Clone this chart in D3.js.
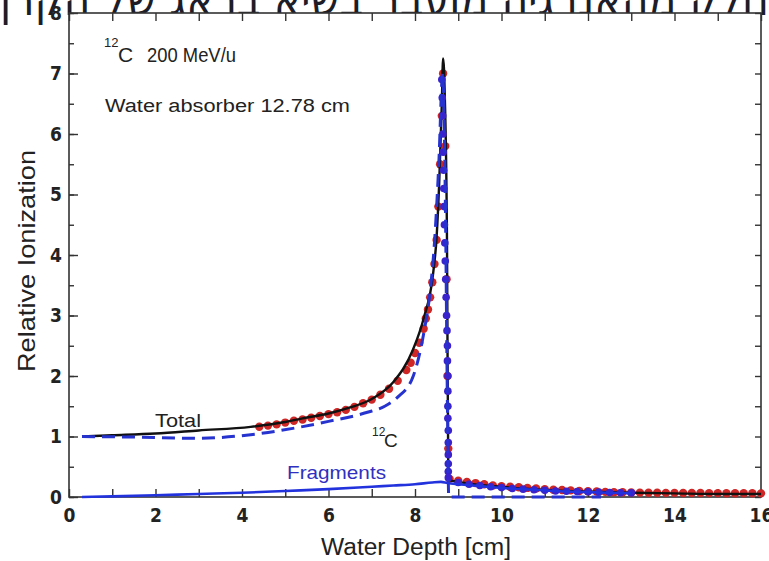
<!DOCTYPE html>
<html>
<head>
<meta charset="utf-8">
<script src="https://cdn.jsdelivr.net/npm/d3@7"></script>
<style>
body { margin: 0; background: #fff; }
svg { display: block; }
.tick text { font-family: "DejaVu Sans Condensed", "Liberation Sans", sans-serif; font-weight: bold; font-size: 19px; fill: #222; }
.tick line { stroke: #333; stroke-width: 1.4; }
.domain { stroke: none; }
</style>
</head>
<body>
<div id="chart"></div>
<script>
// DATA
var xTicks = [0, 2, 4, 6, 8, 10, 12, 14, 16];
var yTicks = [0, 1, 2, 3, 4, 5, 6, 7, 8];

// Total (black solid)
var totalDepth = [0.3, 1, 2, 3, 4.2, 5, 5.4, 6, 6.5, 7, 7.5, 7.95, 8.2, 8.42, 8.5, 8.56, 8.62, 8.65, 8.69, 8.74, 8.77, 8.8, 9, 9.5, 10, 10.5, 11, 11.5, 12, 12.5, 13, 14, 15, 16];
var totalValue = [1.0, 1.02, 1.05, 1.1, 1.16, 1.24, 1.3, 1.38, 1.48, 1.62, 1.9, 2.43, 2.95, 3.7, 4.3, 5.2, 6.5, 7.25, 6.6, 4.2, 0.35, 0.28, 0.25, 0.2, 0.17, 0.14, 0.12, 0.1, 0.09, 0.08, 0.07, 0.06, 0.05, 0.05];

// 12C (blue dashed)
var carbonDepth = [0.3, 1.5, 3, 4.2, 5.3, 6, 6.9, 7.3, 7.6, 7.96, 8.2, 8.35, 8.45, 8.55, 8.64, 8.7, 8.75, 8.78, 9.2, 10, 11, 12.3];
var carbonValue = [1.0, 0.99, 0.97, 1.03, 1.15, 1.25, 1.4, 1.5, 1.65, 2.0, 2.7, 3.4, 4.2, 5.5, 7.0, 5.0, 1.5, 0.0, 0.0, 0.0, 0.0, 0.0];

// Fragments (blue solid)
var fragDepth = [0.3, 1, 2, 3, 4, 5, 6, 7, 7.5, 8, 8.4, 8.6, 8.75, 9, 9.5, 10, 10.5, 11, 11.5, 12, 12.5, 13];
var fragValue = [0.0, 0.01, 0.03, 0.05, 0.07, 0.1, 0.13, 0.17, 0.19, 0.21, 0.24, 0.25, 0.23, 0.21, 0.18, 0.15, 0.13, 0.11, 0.09, 0.08, 0.07, 0.06];

// measured points (red)
var redDepth = [4.4, 4.6, 4.8, 5.0, 5.2, 5.4, 5.6, 5.8, 6.0, 6.2, 6.4, 6.6, 6.8, 7.0, 7.2, 7.4, 7.6, 7.8, 7.9, 8.0, 8.1, 8.2, 8.25, 8.3, 8.35, 8.4, 8.45, 8.5, 8.54, 8.58, 8.62, 8.65, 8.7, 8.73, 8.75, 8.77, 8.8, 9.0, 9.2, 9.4, 9.6, 9.8, 10.0, 10.2, 10.4, 10.6, 10.8, 11.0, 11.2, 11.4, 11.6, 11.8, 12.0, 12.2, 12.4, 12.6, 12.8, 13.0, 13.2, 13.4, 13.6, 13.8, 14.0, 14.2, 14.4, 14.6, 14.8, 15.0, 15.2, 15.4, 15.6, 15.8, 16.0];
var redValue = [1.16, 1.18, 1.2, 1.23, 1.26, 1.28, 1.31, 1.34, 1.37, 1.4, 1.44, 1.49, 1.55, 1.61, 1.69, 1.79, 1.92, 2.1, 2.22, 2.38, 2.55, 2.78, 2.95, 3.1, 3.3, 3.55, 3.85, 4.25, 4.8, 5.5, 6.3, 7.0, 5.8, 3.6, 2.0, 0.8, 0.3, 0.27, 0.25, 0.23, 0.21, 0.19, 0.18, 0.17, 0.16, 0.15, 0.14, 0.13, 0.12, 0.115, 0.11, 0.1, 0.095, 0.09, 0.085, 0.08, 0.078, 0.075, 0.072, 0.07, 0.07, 0.068, 0.068, 0.066, 0.066, 0.065, 0.064, 0.064, 0.063, 0.062, 0.062, 0.061, 0.06];

// simulated points (blue)
var blueDepth = [8.62, 8.63, 8.64, 8.645, 8.65, 8.66, 8.665, 8.67, 8.68, 8.69, 8.7, 8.71, 8.72, 8.73, 8.74, 8.75, 8.75, 8.76, 8.76, 8.76, 8.76, 8.77, 8.77, 8.77, 8.77, 8.77, 8.77, 9.0, 9.25, 9.5, 9.75, 10.0, 10.25, 10.5, 10.75, 11.0, 11.25, 11.5, 11.75, 12.0, 12.25, 12.5, 12.75, 13.0];
var blueValue = [6.9, 6.6, 6.3, 6.0, 5.7, 5.4, 5.1, 4.8, 4.5, 4.2, 3.9, 3.6, 3.3, 3.0, 2.75, 2.5, 2.25, 2.0, 1.75, 1.5, 1.3, 1.1, 0.9, 0.7, 0.55, 0.42, 0.32, 0.24, 0.21, 0.19, 0.17, 0.155, 0.14, 0.13, 0.12, 0.11, 0.1, 0.095, 0.09, 0.085, 0.08, 0.075, 0.07, 0.068];

// LAYOUT
var WIDTH = 769, HEIGHT = 561;
var LEFT = 69, RIGHT = 761, TOP = 13, BOTTOM = 497;

var svg = d3.select("#chart").append("svg")
	.attr("width", WIDTH)
	.attr("height", HEIGHT);

var xScale = d3.scaleLinear().domain([0, 16]).range([LEFT, RIGHT]);
var yScale = d3.scaleLinear().domain([0, 8]).range([BOTTOM, TOP]);

// cut-off caption line at the very top
svg.append("text")
	.attr("x", 0).attr("y", 15)
	.attr("textLength", 769)
	.attr("lengthAdjust", "spacingAndGlyphs")
	.style("font-family", "DejaVu Sans")
	.style("font-size", "46px")
	.style("fill", "#1d1d28")
	.text("חלק מהאנרגיה מועבר בשיא בראג של הקרן");

// frame
svg.append("rect")
	.attr("x", LEFT).attr("y", TOP)
	.attr("width", RIGHT - LEFT).attr("height", BOTTOM - TOP)
	.attr("fill", "#fff")
	.attr("stroke", "#333")
	.attr("stroke-width", 1.6);

var ones = d3.range(0, 17, 1);
var halves = d3.range(0, 8.01, 0.5);

// axes (ticks pointing inward)
svg.append("g")
	.attr("transform", "translate(0," + BOTTOM + ")")
	.call(d3.axisBottom(xScale).tickValues(ones).tickSize(-8).tickPadding(12)
		.tickFormat(function(d) { return xTicks.indexOf(d) >= 0 ? d : ""; }));
svg.append("g")
	.attr("transform", "translate(0," + TOP + ")")
	.call(d3.axisTop(xScale).tickValues(ones).tickSize(-8).tickFormat(""));
svg.append("g")
	.attr("transform", "translate(" + LEFT + ",0)")
	.call(d3.axisLeft(yScale).tickValues(halves).tickSize(-5).tickFormat(""));
svg.append("g")
	.attr("transform", "translate(" + LEFT + ",0)")
	.call(d3.axisLeft(yScale).tickValues(yTicks).tickSize(-9).tickPadding(7));
svg.append("g")
	.attr("transform", "translate(" + RIGHT + ",0)")
	.call(d3.axisRight(yScale).tickValues(halves).tickSize(-6).tickFormat(""));

// axis titles
svg.append("text")
	.attr("transform", "translate(35,261) rotate(-90)")
	.attr("text-anchor", "middle")
	.attr("textLength", 222)
	.attr("lengthAdjust", "spacingAndGlyphs")
	.style("font-family", "Liberation Sans")
	.style("font-size", "24px")
	.style("fill", "#222")
	.text("Relative Ionization");
svg.append("text")
	.attr("x", 416).attr("y", 555)
	.attr("text-anchor", "middle")
	.attr("textLength", 190)
	.attr("lengthAdjust", "spacingAndGlyphs")
	.style("font-family", "Liberation Sans")
	.style("font-size", "23px")
	.style("fill", "#222")
	.text("Water Depth [cm]");

// series
function zip(xs, ys) { return xs.map(function(d, i) { return [d, ys[i]]; }); }
var line = d3.line()
	.curve(d3.curveMonotoneX)
	.x(function(d) { return xScale(d[0]); })
	.y(function(d) { return yScale(d[1]); });

svg.selectAll(".red-dot")
	.data(zip(redDepth, redValue))
	.enter().append("circle")
	.attr("class", "red-dot")
	.attr("cx", function(d) { return xScale(d[0]); })
	.attr("cy", function(d) { return yScale(d[1]); })
	.attr("r", 4.2)
	.attr("fill", "#cf2626");

svg.append("path")
	.datum(zip(totalDepth, totalValue))
	.attr("d", line)
	.attr("fill", "none")
	.attr("stroke", "#111")
	.attr("stroke-width", 2.4);

svg.selectAll(".blue-dot")
	.data(zip(blueDepth, blueValue))
	.enter().append("circle")
	.attr("class", "blue-dot")
	.attr("cx", function(d) { return xScale(d[0]); })
	.attr("cy", function(d) { return yScale(d[1]); })
	.attr("r", 3.8)
	.attr("fill", "#3a22cc");

svg.append("path")
	.datum(zip(carbonDepth, carbonValue))
	.attr("d", line)
	.attr("fill", "none")
	.attr("stroke", "#2633cf")
	.attr("stroke-width", 3)
	.attr("stroke-dasharray", "13,7");

svg.append("path")
	.datum(zip(fragDepth, fragValue))
	.attr("d", line)
	.attr("fill", "none")
	.attr("stroke", "#2233dd")
	.attr("stroke-width", 2.6);

// annotations
var ann = svg.append("g").style("font-family", "Liberation Sans").style("fill", "#222");
ann.append("text").attr("x", 104).attr("y", 47).style("font-size", "13px").text("12");
ann.append("text").attr("x", 118).attr("y", 62).style("font-size", "21px").text("C");
ann.append("text").attr("x", 147).attr("y", 62).attr("textLength", 89)
	.attr("lengthAdjust", "spacingAndGlyphs").style("font-size", "21px").text("200 MeV/u");
ann.append("text").attr("x", 105).attr("y", 112).attr("textLength", 245)
	.attr("lengthAdjust", "spacingAndGlyphs").style("font-size", "18px").text("Water absorber 12.78 cm");
ann.append("text").attr("x", 155).attr("y", 427).attr("textLength", 46)
	.attr("lengthAdjust", "spacingAndGlyphs").style("font-size", "19px").text("Total");
ann.append("text").attr("x", 372).attr("y", 436).style("font-size", "12px").text("12");
ann.append("text").attr("x", 384).attr("y", 447).style("font-size", "19px").text("C");
ann.append("text").attr("x", 287).attr("y", 479).attr("textLength", 99)
	.attr("lengthAdjust", "spacingAndGlyphs").style("font-size", "19px")
	.style("fill", "#3030c0").text("Fragments");
</script>
</body>
</html>
